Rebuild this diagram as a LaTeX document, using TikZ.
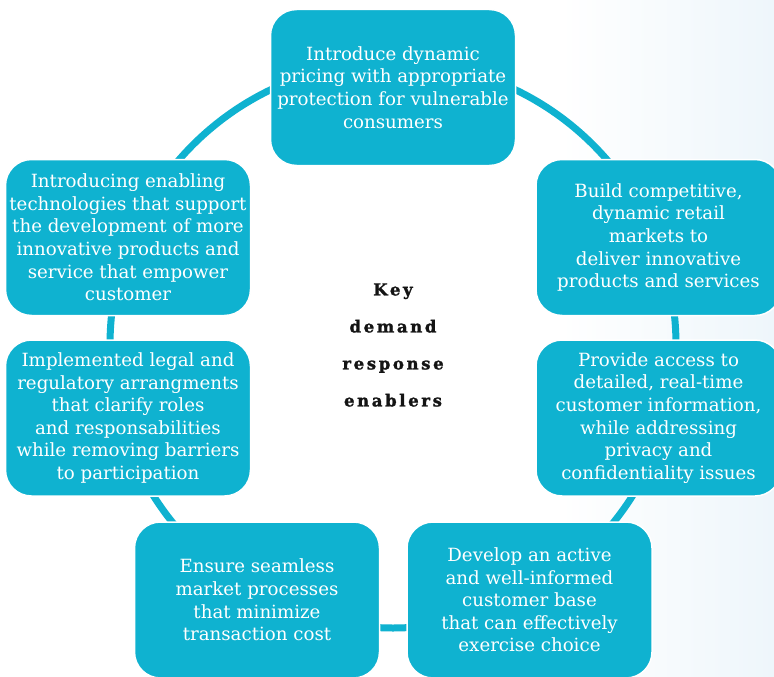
\documentclass[tikz,border=0pt]{standalone}
\usepackage{fontspec}
\setmainfont{DejaVu Serif}
\newfontfamily\keyfont[LetterSpace=16,FakeBold=1.5]{DejaVu Serif Bold}
\definecolor{teal}{HTML}{0FB2D0}
\definecolor{bgblue}{HTML}{EEF6FB}
\begin{document}
\begin{tikzpicture}[x=1pt,y=-1pt,
  enabler/.style={rectangle, rounded corners=26pt, fill=teal, draw=white, line width=1.5pt,
    minimum width=245pt, minimum height=156pt, text=white, align=center, inner sep=2pt,
    font=\fontsize{18.2}{22.6}\selectfont},
  keytext/.style={align=center, text=black!92, font=\keyfont\fontsize{16.5}{37}\selectfont},
  ring/.style={draw=teal, line width=7pt}]
\useasboundingbox (0,0) rectangle (774,677);
\fill[white] (0,0) rectangle (774,677);
\shade[left color=white, right color=bgblue] (560,0) rectangle (774,677);
\coordinate (c) at (393,345);
\draw[ring] (c) circle (283);
\node[enabler] (top) at (393,87.5) {Introduce dynamic\\pricing with appropriate\\protection for vulnerable\\consumers};
\node[enabler] (ru) at (658.5,237.5) {Build competitive,\\dynamic retail\\markets to\\deliver innovative\\products and services};
\node[enabler] (lu) at (128,237.5) {Introducing enabling\\technologies that support\\the development of more\\innovative products and\\service that empower\\customer};
\node[enabler] (ll) at (128,418) {Implemented legal and\\regulatory arrangments\\that clarify roles\\and responsabilities\\while removing barriers\\to participation};
\node[enabler] (rl) at (658.5,418) {Provide access to\\detailed, real-time\\customer information,\\while addressing\\privacy and\\confidentiality issues};
\node[enabler] (bl) at (257,600) {Ensure seamless\\market processes\\that minimize\\transaction cost};
\node[enabler] (br) at (529.5,600) {Develop an active\\and well-informed\\customer base\\that can effectively\\exercise choice};
\node[keytext] (key) at (393,345) {Key\\demand\\response\\enablers};
\end{tikzpicture}
\end{document}
